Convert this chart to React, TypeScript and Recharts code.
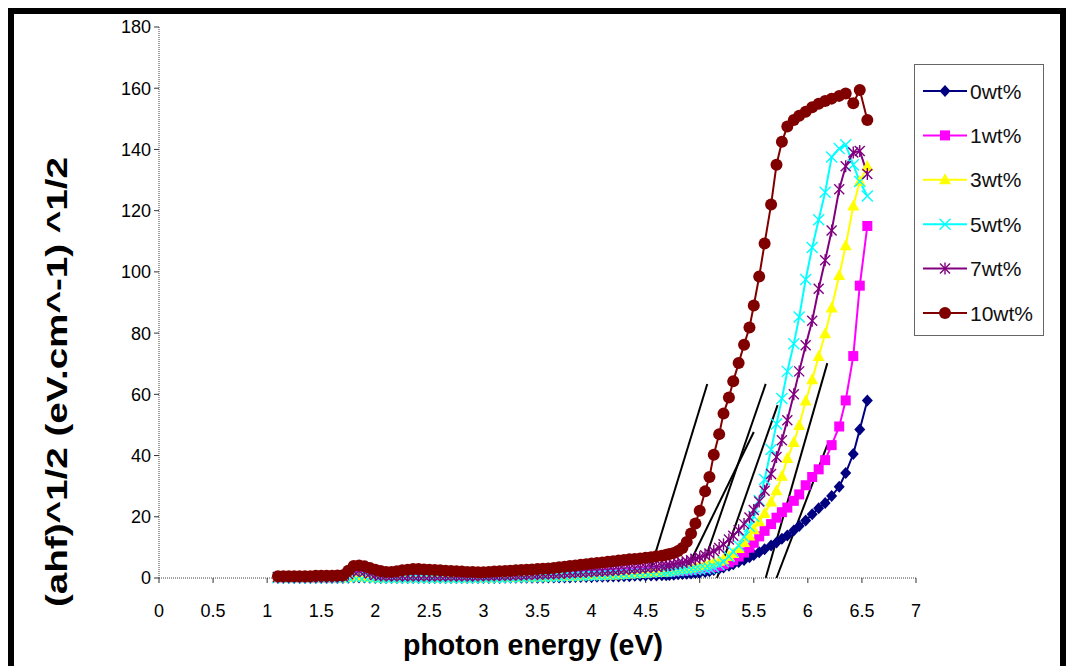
import React from "react";
import { LineChart, Line, XAxis, YAxis } from "recharts";

// photon energy (eV), dense below 4.7 and following the measurement steps above
const energy = [
  1.1, 1.15, 1.2, 1.25, 1.3, 1.35, 1.4, 1.45, 1.5, 1.55,
  1.6, 1.65, 1.7, 1.75, 1.8, 1.85, 1.9, 1.95, 2.0, 2.05,
  2.1, 2.15, 2.2, 2.25, 2.3, 2.35, 2.4, 2.45, 2.5, 2.55,
  2.6, 2.65, 2.7, 2.75, 2.8, 2.85, 2.9, 2.95, 3.0, 3.05,
  3.1, 3.15, 3.2, 3.25, 3.3, 3.35, 3.4, 3.45, 3.5, 3.55,
  3.6, 3.65, 3.7, 3.75, 3.8, 3.85, 3.9, 3.95, 4.0, 4.05,
  4.1, 4.15, 4.2, 4.25, 4.3, 4.35, 4.4, 4.45, 4.5, 4.55,
  4.6, 4.65,
  4.69, 4.72, 4.76, 4.8, 4.84, 4.88, 4.92, 4.96, 5.0, 5.05,
  5.09, 5.13, 5.18, 5.22, 5.27, 5.31, 5.36, 5.41, 5.46, 5.5,
  5.55, 5.6, 5.66, 5.71, 5.76, 5.81, 5.87, 5.92, 5.98, 6.04,
  6.1, 6.16, 6.22, 6.29, 6.35, 6.42, 6.48, 6.55,
];

const wt0 = [
  0, 0, 0, 0, 0, 0, 0, 0, 0, 0,
  0, 0, 0, 0.1, 0.2, 0.2, 0.2, 0.1, 0, 0,
  0, 0, 0, 0, 0, 0, 0, 0, 0, 0,
  0, 0, 0, 0, 0, 0, 0, 0, 0, 0,
  0, 0, 0.1, 0.1, 0.1, 0.1, 0.1, 0.1, 0.1, 0.1,
  0.2, 0.2, 0.2, 0.2, 0.2, 0.3, 0.3, 0.3, 0.3, 0.4,
  0.4, 0.4, 0.5, 0.5, 0.6, 0.6, 0.7, 0.7, 0.8, 0.8,
  0.8, 0.9,
  0.9, 1.0, 1.1, 1.2, 1.3, 1.4, 1.5, 1.6, 1.7, 2.0,
  2.2, 2.6, 3.0, 3.4, 4.0, 4.5, 5.2, 5.9, 6.8, 7.5,
  8.4, 9.4, 10.6, 11.6, 12.8, 13.9, 15.5, 17.0, 18.8, 20.8,
  22.8, 24.5, 26.8, 29.8, 34.3, 40.5, 48.5, 58,
];

const wt1 = [
  0.2, 0.2, 0.2, 0.2, 0.2, 0.2, 0.2, 0.2, 0.2, 0.2,
  0.2, 0.2, 0.3, 0.6, 1.2, 1.3, 1.0, 0.7, 0.4, 0.3,
  0.3, 0.3, 0.3, 0.3, 0.3, 0.3, 0.3, 0.3, 0.3, 0.3,
  0.3, 0.3, 0.3, 0.3, 0.3, 0.3, 0.3, 0.3, 0.3, 0.4,
  0.4, 0.4, 0.4, 0.5, 0.5, 0.5, 0.6, 0.6, 0.6, 0.7,
  0.7, 0.8, 0.8, 0.9, 0.9, 1.0, 1.0, 1.1, 1.2, 1.2,
  1.3, 1.4, 1.4, 1.5, 1.6, 1.6, 1.7, 1.8, 1.8, 1.9,
  1.9, 2.0,
  2.0, 2.1, 2.2, 2.3, 2.4, 2.5, 2.7, 2.9, 3.0, 3.2,
  3.4, 3.6, 4.0, 4.5, 5.1, 5.8, 7.0, 8.3, 9.9, 11.5,
  13.6, 15.4, 17.6, 19.7, 21.5, 23.0, 25.2, 27.3, 30.3, 33.0,
  35.5, 38.5, 43.4, 49.5, 58, 72.5, 95.5, 115,
];

const wt3 = [
  0.1, 0.1, 0.1, 0.1, 0.1, 0.1, 0.1, 0.1, 0.1, 0.1,
  0.1, 0.1, 0.1, 0.2, 0.4, 0.4, 0.3, 0.2, 0.1, 0.1,
  0.1, 0.1, 0.1, 0.1, 0.1, 0.1, 0.1, 0.1, 0.1, 0.1,
  0.1, 0.1, 0.1, 0.1, 0.1, 0.1, 0.1, 0.1, 0.1, 0.1,
  0.1, 0.2, 0.2, 0.2, 0.2, 0.3, 0.3, 0.3, 0.3, 0.4,
  0.4, 0.5, 0.5, 0.5, 0.6, 0.6, 0.7, 0.7, 0.8, 0.8,
  0.9, 1.0, 1.0, 1.1, 1.2, 1.3, 1.4, 1.5, 1.6, 1.7,
  1.8, 1.9,
  2.0, 2.2, 2.4, 2.6, 2.8, 3.0, 3.3, 3.6, 3.9, 4.2,
  4.6, 5.0, 5.5, 6.0, 7.0, 8.0, 9.6, 11.6, 13.7, 15.8,
  18.4, 21.1, 24.8, 28.5, 33.2, 39, 44.3, 49.8, 57.8, 64.8,
  72.4, 79.8, 88.2, 98.8, 108.5, 121.5, 129.5, 134.4,
];

const wt5 = [
  0.1, 0.1, 0.1, 0.1, 0.1, 0.1, 0.1, 0.1, 0.1, 0.1,
  0.1, 0.1, 0.1, 0.3, 0.6, 0.6, 0.5, 0.3, 0.2, 0.1,
  0.1, 0.1, 0.1, 0.1, 0.1, 0.1, 0.1, 0.1, 0.1, 0.1,
  0.1, 0.1, 0.1, 0.1, 0.1, 0.1, 0.1, 0.1, 0.2, 0.2,
  0.2, 0.2, 0.2, 0.3, 0.3, 0.3, 0.4, 0.4, 0.4, 0.5,
  0.5, 0.6, 0.6, 0.7, 0.7, 0.8, 0.8, 0.9, 1.0, 1.0,
  1.1, 1.2, 1.3, 1.3, 1.4, 1.5, 1.6, 1.7, 1.8, 1.9,
  2.0, 2.0,
  2.1, 2.2, 2.3, 2.4, 2.5, 2.6, 2.7, 2.8, 2.9, 3.0,
  3.2, 3.6, 4.3, 5.3, 7.0, 8.6, 10.6, 13.4, 16.8, 20.2,
  25.3, 32.2, 42, 50.3, 58.6, 67.5, 76.5, 85.3, 97.5, 108,
  117, 126, 137.5, 140.3, 141.5, 135, 129.5, 124.8,
];

const wt7 = [
  0.3, 0.3, 0.3, 0.3, 0.3, 0.3, 0.3, 0.3, 0.3, 0.3,
  0.3, 0.4, 0.5, 1.2, 2.2, 2.4, 2.0, 1.5, 1.0, 0.8,
  0.7, 0.7, 0.7, 0.7, 0.7, 0.7, 0.7, 0.7, 0.7, 0.7,
  0.7, 0.7, 0.7, 0.7, 0.7, 0.7, 0.7, 0.7, 0.8, 0.8,
  0.8, 0.9, 0.9, 1.0, 1.0, 1.1, 1.1, 1.2, 1.2, 1.3,
  1.4, 1.4, 1.5, 1.6, 1.7, 1.8, 1.9, 2.0, 2.1, 2.2,
  2.3, 2.4, 2.5, 2.7, 2.8, 3.0, 3.1, 3.3, 3.4, 3.6,
  3.7, 3.9,
  4.0, 4.2, 4.5, 4.8, 5.0, 5.4, 5.8, 6.3, 6.8, 7.4,
  8.0, 8.8, 9.8, 11.0, 12.6, 13.8, 15.6, 17.6, 19.8, 22.2,
  25.0, 28.5, 34, 39.5, 45, 51.5, 60, 67.5, 76, 84,
  94.5, 103.8, 113.5, 127, 134.5, 139, 139.5, 132,
];

const wt10 = [
  0.6, 0.6, 0.6, 0.6, 0.6, 0.6, 0.6, 0.7, 0.7, 0.7,
  0.7, 0.8, 0.9, 2.4, 3.9, 4.1, 3.8, 3.3, 2.7, 2.3,
  2.0, 2.0, 2.2, 2.5, 2.7, 2.9, 2.9, 2.8, 2.7, 2.6,
  2.5, 2.4, 2.3, 2.2, 2.1, 2.0, 2.0, 1.9, 1.9, 2.0,
  2.1, 2.2, 2.3, 2.4, 2.5, 2.6, 2.7, 2.8, 2.9, 3.0,
  3.1, 3.3, 3.5, 3.7, 3.9, 4.1, 4.3, 4.5, 4.7, 4.9,
  5.1, 5.3, 5.5, 5.7, 5.9, 6.1, 6.2, 6.4, 6.6, 6.8,
  7.1, 7.3,
  7.6, 7.8, 8.2, 8.8, 9.8, 11.8, 14.5, 17.8, 22, 28.3,
  33, 40.3, 47, 53.7, 59, 64.3, 70.2, 76.2, 81.8, 89,
  98.5, 109.3, 122, 135, 142.5, 147.5, 149.6, 151, 152.3, 153.8,
  154.9, 155.8, 156.6, 157.5, 158.3, 155.1, 159.4, 149.6,
];

// fitted tangent lines: intercept on the energy axis and upper end point
const tangentStart = [4.52, 4.84, 4.99, 5.16, 5.61, 5.71];
const tangentEndE = [5.07, 5.5, 5.61, 5.72, 6.18, 6.18];
const tangentEndY = [63.4, 47.7, 63.4, 56.5, 70.2, 43.5];

const xTicks = [0, 0.5, 1, 1.5, 2, 2.5, 3, 3.5, 4, 4.5, 5, 5.5, 6, 6.5, 7];
const yTicks = [0, 20, 40, 60, 80, 100, 120, 140, 160, 180];

const series = [
  { key: "wt0", name: "0wt%", values: wt0, color: "#000080", shape: "diamond" },
  { key: "wt1", name: "1wt%", values: wt1, color: "#FF00FF", shape: "square" },
  { key: "wt3", name: "3wt%", values: wt3, color: "#FFFF00", shape: "triangle" },
  { key: "wt5", name: "5wt%", values: wt5, color: "#00FFFF", shape: "cross" },
  { key: "wt7", name: "7wt%", values: wt7, color: "#800080", shape: "star" },
  { key: "wt10", name: "10wt%", values: wt10, color: "#800000", shape: "circle" },
];

const rows = energy.map((e, i) => {
  const row: Record<string, number> = { e };
  series.forEach((s) => (row[s.key] = s.values[i]));
  return row;
});

const tangents = tangentStart.map((e0, i) => [
  { e: e0, y: 0 },
  { e: tangentEndE[i], y: tangentEndY[i] },
]);

const FONT = "'Liberation Sans', Arial, sans-serif";

function Marker({ shape, color, cx, cy }: { shape: string; color: string; cx: number; cy: number }) {
  if (cx == null || cy == null) return null;
  switch (shape) {
    case "diamond":
      return <polygon points={`${cx},${cy - 6} ${cx + 5.5},${cy} ${cx},${cy + 6} ${cx - 5.5},${cy}`} fill={color} />;
    case "square":
      return <rect x={cx - 5} y={cy - 5} width={10} height={10} fill={color} />;
    case "triangle":
      return <polygon points={`${cx},${cy - 6.5} ${cx + 6},${cy + 4.5} ${cx - 6},${cy + 4.5}`} fill={color} />;
    case "cross":
      return (
        <g stroke={color} strokeWidth={1.4}>
          <line x1={cx - 5.5} y1={cy - 5.5} x2={cx + 5.5} y2={cy + 5.5} />
          <line x1={cx - 5.5} y1={cy + 5.5} x2={cx + 5.5} y2={cy - 5.5} />
        </g>
      );
    case "star":
      return (
        <g stroke={color} strokeWidth={1.4}>
          <line x1={cx - 5} y1={cy - 5} x2={cx + 5} y2={cy + 5} />
          <line x1={cx - 5} y1={cy + 5} x2={cx + 5} y2={cy - 5} />
          <line x1={cx} y1={cy - 6} x2={cx} y2={cy + 6} />
        </g>
      );
    default:
      return <circle cx={cx} cy={cy} r={6} fill={color} />;
  }
}

function Legend() {
  const step = 44.4;
  return (
    <div
      style={{
        position: "absolute",
        left: 914,
        top: 64,
        width: 130,
        height: 272,
        border: "1px solid #666",
        boxSizing: "border-box",
        background: "#fff",
      }}
    >
      <svg width={130} height={272} style={{ position: "absolute", left: -1, top: -1 }}>
        {series.map((s, i) => {
          const y = 27 + i * step;
          return (
            <g key={s.key}>
              <line x1={9} x2={53} y1={y} y2={y} stroke={s.color} strokeWidth={2} />
              <Marker shape={s.shape} color={s.color} cx={31} cy={y} />
              <text x={56} y={y} dominantBaseline="central" fontSize={21} fontFamily={FONT} fill="#111">
                {s.name}
              </text>
            </g>
          );
        })}
      </svg>
    </div>
  );
}

export default function App() {
  return (
    <div style={{ position: "absolute", left: 0, top: 0, width: 1074, height: 666, background: "#fff", overflow: "hidden" }}>
      <div style={{ position: "absolute", left: 0, top: 0 }}>
        <LineChart width={1074} height={666} data={rows} margin={{ top: 27, right: 158, bottom: 58, left: 99 }}>
          <XAxis
            dataKey="e"
            type="number"
            domain={[0, 7]}
            ticks={xTicks}
            interval={0}
            height={30}
            tickSize={5}
            tickMargin={21}
            axisLine={{ stroke: "#444", strokeDasharray: "1 1" }}
            tickLine={{ stroke: "#333" }}
            tick={{ fill: "#000", fontSize: 18, fontFamily: FONT }}
          />
          <YAxis
            type="number"
            domain={[0, 180]}
            ticks={yTicks}
            interval={0}
            width={60}
            tickSize={5}
            tickMargin={3}
            axisLine={{ stroke: "#444", strokeDasharray: "1 1" }}
            tickLine={{ stroke: "#333" }}
            tick={{ fill: "#000", fontSize: 18, fontFamily: FONT }}
          />
          {series.map((s) => (
            <Line
              key={s.key}
              dataKey={s.key}
              type="linear"
              stroke={s.color}
              strokeWidth={2}
              isAnimationActive={false}
              activeDot={false}
              dot={(p: any) => <Marker key={`${s.key}-${p.index}`} shape={s.shape} color={s.color} cx={p.cx} cy={p.cy} />}
            />
          ))}
          {tangents.map((t, i) => (
            <Line
              key={`tan-${i}`}
              data={t}
              dataKey="y"
              type="linear"
              stroke="#000"
              strokeWidth={2}
              dot={false}
              activeDot={false}
              isAnimationActive={false}
            />
          ))}
        </LineChart>
      </div>
      <Legend />
      <svg width={1074} height={666} style={{ position: "absolute", left: 0, top: 0, pointerEvents: "none" }}>
        <text
          transform="translate(67,607) rotate(-90)"
          fontSize={30}
          fontWeight="bold"
          fontFamily={FONT}
          textLength={450}
          lengthAdjust="spacingAndGlyphs"
          fill="#000"
        >
          (ahf)^1/2 (eV.cm^-1)  ^1/2
        </text>
        <text
          x={403}
          y={655}
          fontSize={30}
          fontWeight="bold"
          fontFamily={FONT}
          textLength={260}
          lengthAdjust="spacingAndGlyphs"
          fill="#000"
        >
          photon energy (eV)
        </text>
      </svg>
      <div style={{ position: "absolute", left: 8, top: 8, width: 1058, height: 6, background: "#000" }} />
      <div style={{ position: "absolute", left: 8, top: 8, width: 6, height: 658, background: "#000" }} />
      <div style={{ position: "absolute", left: 1060, top: 8, width: 6, height: 658, background: "#000" }} />
    </div>
  );
}
